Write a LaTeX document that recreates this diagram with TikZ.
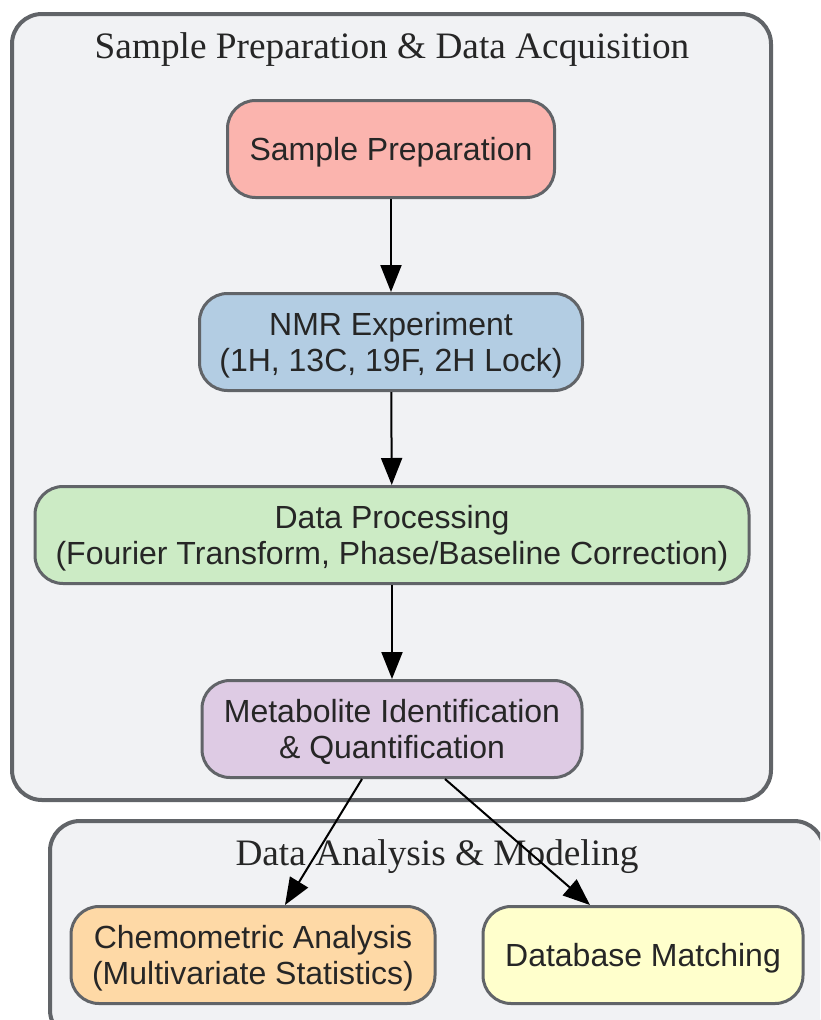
\documentclass[tikz,border=0pt]{standalone}
\usepackage{fontspec}
\setmainfont{Liberation Serif}
\newfontfamily\boxfont{Liberation Sans}
\usetikzlibrary{arrows.meta}
\definecolor{bordergray}{HTML}{616468}
\definecolor{clusterfill}{HTML}{F1F2F4}
\definecolor{txt}{HTML}{262626}
\definecolor{cRed}{HTML}{FBB4AE}
\definecolor{cBlue}{HTML}{B3CDE3}
\definecolor{cGreen}{HTML}{CCEBC5}
\definecolor{cPurple}{HTML}{DECBE4}
\definecolor{cOrange}{HTML}{FED9A6}
\definecolor{cYellow}{HTML}{FFFFCC}
\newcommand\liftline{\rule{0pt}{29.5pt}}
\tikzset{
  stepbox/.style={draw=bordergray, line width=3pt, rounded corners=28pt, align=center,
    text=txt, font=\boxfont\fontsize{32}{36}\selectfont, inner sep=0pt,
    minimum height=97pt},
  cluster/.style={draw=bordergray, line width=4pt, fill=clusterfill, rounded corners=30pt},
  clustertitle/.style={text=txt, font=\fontsize{37.3}{40}\selectfont, inner sep=0pt},
  flow/.style={-{Triangle[length=27pt,width=21pt]}, line width=2pt, black},
}
\begin{document}
\begin{tikzpicture}[x=1pt,y=-1pt]
\useasboundingbox (0,0) rectangle (820,1020);
\clip (0,0) rectangle (820,1020);
\draw[cluster] (12,14) rectangle (771,800);
\draw[cluster] (50,821) rectangle (824,1040);
\node[clustertitle] (t1) at (392,50) {Sample Preparation \& Data Acquisition};
\node[clustertitle] (t2) at (437,857) {Data Analysis \& Modeling};

\node[stepbox, fill=cRed, minimum width=327pt] (prep) at (391,149) {\liftline Sample Preparation};
\node[stepbox, fill=cBlue, minimum width=383pt] (nmr) at (391,342) {\liftline NMR Experiment\\(1H, 13C, 19F, 2H Lock)};
\node[stepbox, fill=cGreen, minimum width=714pt] (proc) at (392,535) {\liftline Data Processing\\(Fourier Transform, Phase/Baseline Correction)};
\node[stepbox, fill=cPurple, minimum width=380pt] (met) at (392,729) {\liftline Metabolite Identification\\\& Quantification};
\node[stepbox, fill=cOrange, minimum width=364pt] (chem) at (253,955) {\liftline Chemometric Analysis\\(Multivariate Statistics)};
\node[stepbox, fill=cYellow, minimum width=320pt] (db) at (643,955) {\liftline Database Matching};

\draw[flow] (prep) -- (nmr);
\draw[flow] (nmr) -- (proc);
\draw[flow] (proc) -- (met);
\draw[flow] ([xshift=-30pt]met.south) -- ([xshift=32pt]chem.north);
\draw[flow] ([xshift=53pt]met.south) -- ([xshift=-53pt]db.north);
\end{tikzpicture}
\end{document}
